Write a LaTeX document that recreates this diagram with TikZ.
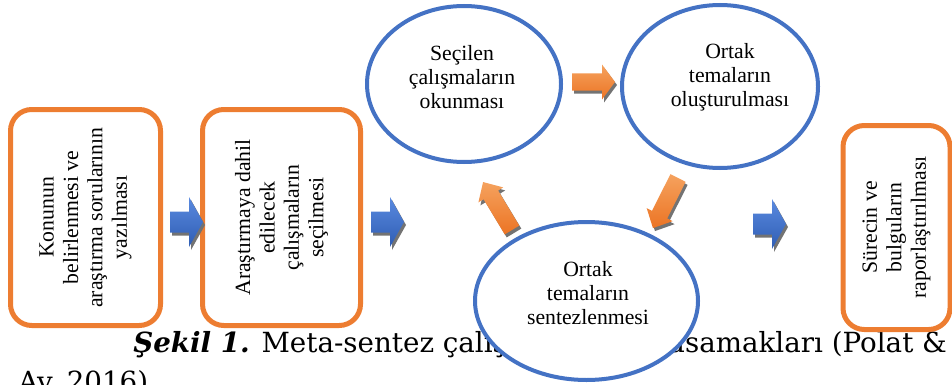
\documentclass[tikz,border=0pt]{standalone}
\usepackage{fontspec}
\setmainfont{Liberation Serif}
\newfontfamily\capfont{DejaVu Serif}
\usetikzlibrary{shapes.geometric}

\definecolor{boxorange}{HTML}{ED7D31}
\definecolor{ovalblue}{HTML}{4472C4}
\definecolor{arrblue1}{HTML}{5A8AE0}
\definecolor{arrblue2}{HTML}{2F5DB3}
\definecolor{arrorange1}{HTML}{F5A25E}
\definecolor{arrorange2}{HTML}{EC7424}

\tikzset{
  stepbox/.style={draw=boxorange, line width=3.75pt, rounded corners=16pt,
    rotate=90, align=center, inner sep=0pt, font=\fontsize{16.3}{18.3}\selectfont},
  oval/.style={ellipse, draw=ovalblue, line width=3pt, fill=white, inner sep=0pt},
  ovaltext/.style={align=center, inner sep=0pt, font=\fontsize{16.3}{18}\selectfont},
  bluefill/.style={top color=arrblue1, bottom color=arrblue2},
  orangefill/.style={top color=arrorange1, bottom color=arrorange2},
  arrowshadow/.style={fill=black!55},
  captext/.style={anchor=base west, inner sep=0pt, font=\capfont\fontsize{20.8}{24}\selectfont}
}

% block arrow: style, tail, angle, length, head length, shaft half, head half
\newcommand\blockarrow[7]{%
  \fill[arrowshadow, shift={#2}, shift={(2,3)}, rotate=#3]
    (0,-#6) -- ({#4-#5},-#6) -- ({#4-#5},-#7) -- (#4,0)
    -- ({#4-#5},#7) -- ({#4-#5},#6) -- (0,#6) -- cycle;
  \shade[#1, shift={#2}, rotate=#3]
    (0,-#6) -- ({#4-#5},-#6) -- ({#4-#5},-#7) -- (#4,0)
    -- ({#4-#5},#7) -- ({#4-#5},#6) -- (0,#6) -- cycle;
}

\begin{document}
\begin{tikzpicture}[x=0.75pt, y=-0.75pt]
  \useasboundingbox (0,0) rectangle (952,385);

  % caption, partly hidden by the lower oval
  \node[captext] (cap1) at (133,352) {\textbf{\textit{Şekil 1.}} Meta-sentez çalışmalarının basamakları (Polat \&};
  \node[captext] (cap2) at (18,391) {Ay, 2016)};

  % boxes
  \node[stepbox, minimum width=162pt, minimum height=112.5pt] (konu) at (85.5,217.5)
    {Konunun\\belirlenmesi ve\\araştırma sorularının\\yazılması};
  \node[stepbox, minimum width=162pt, minimum height=118.5pt] (secim) at (281.5,217.5)
    {Araştırmaya dahil\\edilecek\\çalışmaların\\seçilmesi};
  \node[stepbox, minimum width=153pt, minimum height=80.25pt] (rapor) at (896.5,227.5)
    {Sürecin ve\\bulguların\\raporlaştırılması};

  % ovals
  \node[oval, minimum width=145.5pt, minimum height=117pt] (okuma) at (464,84) {};
  \node[oval, minimum width=147pt, minimum height=122.25pt] (tema) at (720,86.5) {};
  \node[oval, minimum width=167.25pt, minimum height=118.5pt] (sentez) at (586.5,301) {};
  \node[ovaltext] (okumat) at (462,77) {Seçilen\\çalışmaların\\okunması};
  \node[ovaltext] (temat) at (730,77) {Ortak\\temaların\\oluşturulması};
  \node[ovaltext] (sentezt) at (588,293) {Ortak\\temaların\\sentezlenmesi};

  % arrows
  \blockarrow{bluefill}{(170,222)}{0}{33}{14}{10.5}{25}
  \blockarrow{bluefill}{(371,222)}{0}{33}{14}{10.5}{25}
  \blockarrow{bluefill}{(753,224)}{0}{33}{14}{10.5}{25}
  \blockarrow{orangefill}{(572,82)}{0}{43}{13}{8.5}{17.5}
  \blockarrow{orangefill}{(678,178)}{243.4}{56}{15}{8.5}{14.5}
  \blockarrow{orangefill}{(512,230)}{121.1}{56}{15}{8.5}{14.5}
\end{tikzpicture}
\end{document}
